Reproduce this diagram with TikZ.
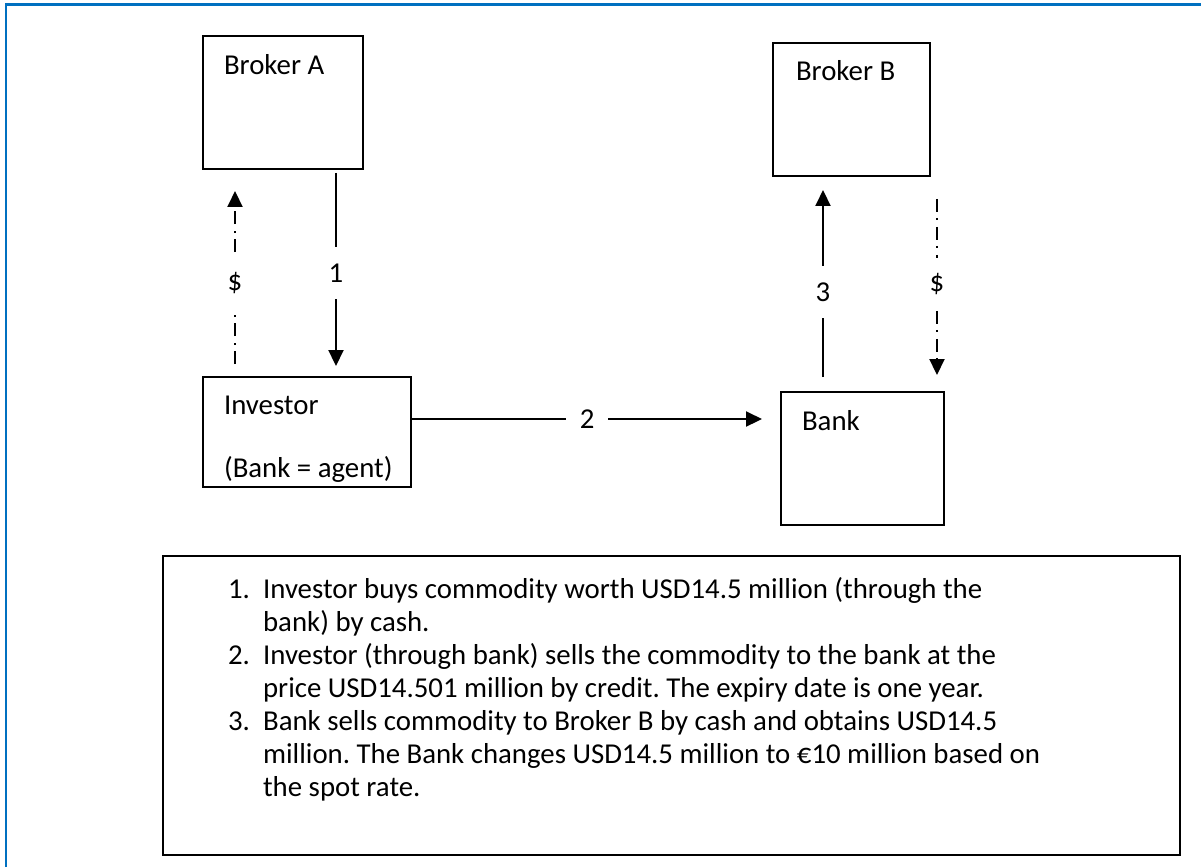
\documentclass[tikz,border=0pt]{standalone}
\usepackage{fontspec}
\setmainfont{Carlito}
\usepackage{xcolor}
\usetikzlibrary{positioning,arrows.meta}
\definecolor{frameblue}{RGB}{0,112,192}
\frenchspacing

\begin{document}
\begin{tikzpicture}[%
    x=0.02cm,y=-0.02cm,line width=0.04cm,
    >={Triangle[length=0.32cm,width=0.3cm]},
    font=\fontsize{16.4}{18.8}\selectfont,
    box/.style={draw,rectangle,inner sep=0pt},
    tag/.style={anchor=base west,inner sep=0pt},
    gap/.style={fill=white,inner sep=0pt,minimum height=1.04cm,minimum width=0.84cm},
    cash/.style={dash pattern=on 0.26cm off 0.12cm on 0.05cm off 0.13cm}
  ]
    \useasboundingbox (0,0) rectangle (1201,867);
    \draw[frameblue,line width=0.046cm] (6,867) -- (6,4.5) -- (1201,4.5);

    \node[box,minimum width=3.2cm,minimum height=2.66cm]  (brokerA)  at (283,102.5)   {};
    \node[box,minimum width=3.14cm,minimum height=2.66cm] (brokerB)  at (851.5,109.5) {};
    \node[box,minimum width=4.16cm,minimum height=2.2cm]  (investor) at (307,432)     {};
    \node[box,minimum width=3.26cm,minimum height=2.66cm] (bank)     at (862.5,458.5) {};
    \node[box,minimum width=20.34cm,minimum height=5.98cm] (notes)   at (671.5,705.5) {};

    \node[tag] (brokerAtext)  at ([shift={(21,39)}]brokerA.north west)   {Broker A};
    \node[tag] (brokerBtext)  at ([shift={(23,38)}]brokerB.north west)   {Broker B};
    \node[tag] (investortext) at ([shift={(21,38)}]investor.north west)  {Investor};
    \node[tag] (agenttext)    at ([shift={(21,101)}]investor.north west) {(Bank = agent)};
    \node[tag] (banktext)     at ([shift={(21,39)}]bank.north west)      {Bank};

    \node[tag] (notestext) at ([shift={(65,43)}]notes.north west) {%
      \begin{tabular}[t]{@{}p{0.7cm}@{}l@{}}
        1. & Investor buys commodity worth USD14.5 million (through the\\
           & bank) by cash.\\
        2. & Investor (through bank) sells the commodity to the bank at the\\
           & price USD14.501 million by credit. The expiry date is one year.\\
        3. & Bank sells commodity to Broker B by cash and obtains USD14.5\\
           & million. The Bank changes USD14.5 million to €10 million based on\\
           & the spot rate.
      \end{tabular}};

    % goods
    \draw[->,shorten <=0.06cm,shorten >=0.2cm]
      ([xshift=1.06cm]brokerA.south) -- node[gap] {1} ([xshift=1.06cm]brokerA.south |- investor.north);
    \draw[->,shorten >=0.36cm]
      ([yshift=0.26cm]investor.east) -- node[gap,pos=0.476] {2} ([yshift=0.26cm]investor.east -| bank.west);
    \draw[->,shorten <=0.28cm,shorten >=0.26cm]
      ([xshift=-0.79cm]bank.north) -- node[gap,pos=0.463] {3} ([xshift=-0.79cm]bank.north |- brokerB.south);
    % cash
    \draw[->,cash,shorten <=0.24cm,shorten >=0.42cm]
      ([xshift=-1.44cm]investor.north) -- node[gap,pos=0.45] {\$} ([xshift=-1.44cm]investor.north |- brokerA.south);
    \draw[->,cash,shorten <=0.44cm,shorten >=0.32cm]
      ([xshift=1.49cm]bank.north |- brokerB.south) -- node[gap] {\$} ([xshift=1.49cm]bank.north);
\end{tikzpicture}
\end{document}
